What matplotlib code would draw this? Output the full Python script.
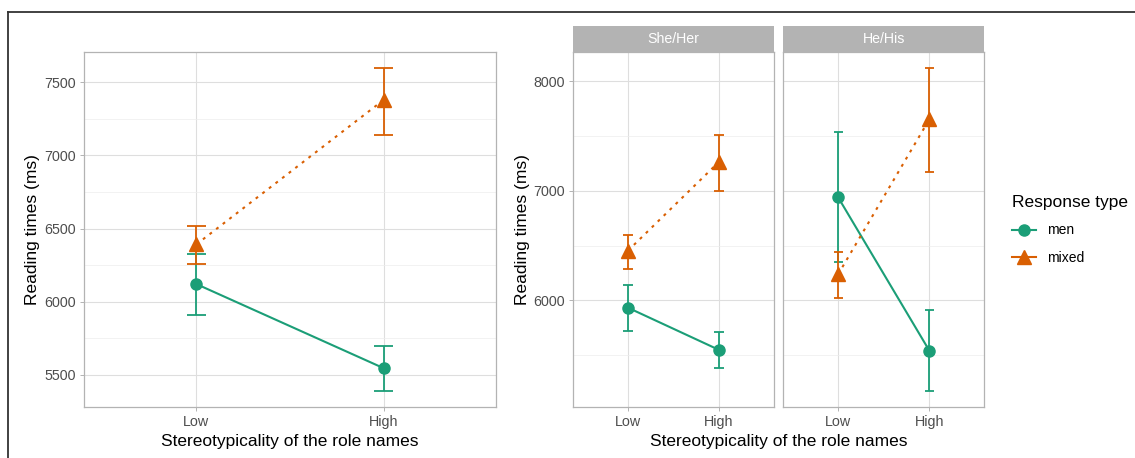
import numpy as np
import matplotlib
matplotlib.use("Agg")
import matplotlib.pyplot as plt
from matplotlib.lines import Line2D

plt.rcParams['font.family'] = ['Liberation Sans', 'DejaVu Sans']

levels = ['Low', 'High']

# left panel: all pronouns pooled
all_men = [6121, 5546]
all_men_lo = [5912, 5391]
all_men_hi = [6328, 5697]
all_mixed = [6392, 7380]
all_mixed_lo = [6260, 7143]
all_mixed_hi = [6515, 7597]

# right panels: split by pronoun
she_men = [5932, 5546]
she_men_lo = [5720, 5379]
she_men_hi = [6142, 5714]
she_mixed = [6453, 7266]
she_mixed_lo = [6289, 7002]
she_mixed_hi = [6599, 7507]

he_men = [6941, 5537]
he_men_lo = [6347, 5169]
he_men_hi = [7537, 5909]
he_mixed = [6237, 7656]
he_mixed_lo = [6024, 7172]
he_mixed_hi = [6441, 8119]

colours = {'men': '#1B9E77', 'mixed': '#D95F02'}
markers = {'men': ('o', 8), 'mixed': ('^', 9.5)}
styles = {'men': '-', 'mixed': (0, (1.4, 2.6))}

W, H = 1135, 458
fig = plt.figure(figsize=(W / 100, H / 100), dpi=100)


def px_axes(x0, y0, x1, y1):
    return fig.add_axes([x0 / W, 1 - y1 / H, (x1 - x0) / W, (y1 - y0) / H])


def draw(ax, series):
    x = np.arange(len(levels))
    for name, mean, lo, hi in series:
        c = colours[name]
        ax.plot(x, mean, color=c, lw=1.5, ls=styles[name], dash_capstyle='butt', zorder=3)
        ax.vlines(x, lo, hi, color=c, lw=1.3, zorder=3)
        ax.hlines(lo, x - 0.05, x + 0.05, color=c, lw=1.3, zorder=3)
        ax.hlines(hi, x - 0.05, x + 0.05, color=c, lw=1.3, zorder=3)
        m, ms = markers[name]
        ax.plot(x, mean, ls='none', marker=m, ms=ms, color=c, zorder=4)
    ax.set_xlim(-0.6, 1.6)
    ax.set_xticks(x, levels)


def style(ax, lo, hi, major, minor, show_y=True):
    pad = 0.05 * (hi - lo)
    ax.set_ylim(lo - pad, hi + pad)
    ax.set_yticks(major)
    ax.set_yticks(minor, minor=True)
    ax.grid(True, which='major', color='#DEDEDE', lw=0.8, zorder=0)
    ax.grid(True, which='minor', axis='y', color='#EDEDED', lw=0.5, zorder=0)
    ax.set_axisbelow(True)
    for s in ax.spines.values():
        s.set_color('#B3B3B3')
        s.set_linewidth(0.9)
    ax.tick_params(which='major', length=2.75, width=0.7, color='#B3B3B3',
                   labelsize=10.3, labelcolor='#4D4D4D', pad=3)
    ax.tick_params(which='minor', length=0)
    if not show_y:
        ax.tick_params(axis='y', which='both', left=False, labelleft=False)


# left panel
ax1 = px_axes(84, 52, 496, 407)
draw(ax1, [('men', all_men, all_men_lo, all_men_hi),
           ('mixed', all_mixed, all_mixed_lo, all_mixed_hi)])
lo1 = min(all_men_lo + all_mixed_lo)
hi1 = max(all_men_hi + all_mixed_hi)
style(ax1, lo1, hi1, [5500, 6000, 6500, 7000, 7500], [5750, 6250, 6750, 7250])

# faceted panels
ax2 = px_axes(573.3, 52.3, 773.7, 407.3)
ax3 = px_axes(783.3, 52.3, 984.3, 407.3)
draw(ax2, [('men', she_men, she_men_lo, she_men_hi),
           ('mixed', she_mixed, she_mixed_lo, she_mixed_hi)])
draw(ax3, [('men', he_men, he_men_lo, he_men_hi),
           ('mixed', he_mixed, he_mixed_lo, he_mixed_hi)])
lo2 = min(she_men_lo + she_mixed_lo + he_men_lo + he_mixed_lo)
hi2 = max(she_men_hi + she_mixed_hi + he_men_hi + he_mixed_hi)
style(ax2, lo2, hi2, [6000, 7000, 8000], [5500, 6500, 7500])
style(ax3, lo2, hi2, [6000, 7000, 8000], [5500, 6500, 7500], show_y=False)

# facet strips
for (x0, x1), label in zip([(573.3, 773.7), (783.3, 984.3)], ['She/Her', 'He/His']):
    st = px_axes(x0, 25.7, x1, 52.3)
    st.set_facecolor('#B3B3B3')
    st.set_xticks([])
    st.set_yticks([])
    for s in st.spines.values():
        s.set_visible(False)
    st.text(0.5, 0.5, label, color='white', fontsize=10.2, ha='center', va='center',
            transform=st.transAxes)

# axis titles
fig.text(290 / W, 1 - 446 / H, 'Stereotypicality of the role names', fontsize=12.5,
         ha='center', va='baseline')
fig.text(778.8 / W, 1 - 446 / H, 'Stereotypicality of the role names', fontsize=12.5,
         ha='center', va='baseline')
fig.text(33 / W, 1 - 229.5 / H, 'Reading times (ms)', fontsize=12.5, rotation=90,
         ha='center', va='center')
fig.text(522 / W, 1 - 229.5 / H, 'Reading times (ms)', fontsize=12.5, rotation=90,
         ha='center', va='center')

# legend
handles = [Line2D([], [], color=colours[k], lw=1.5, marker=markers[k][0],
                  ms=markers[k][1]) for k in ['men', 'mixed']]
fig.legend(handles, ['men', 'mixed'], title='Response type', loc='upper left',
           bbox_to_anchor=(1012 / W, 1 - 194.5 / H), frameon=False, fontsize=10,
           title_fontsize=12.5, alignment='left', handlelength=1.7,
           borderpad=0, borderaxespad=0, labelspacing=1.0, handletextpad=0.8)

# frame lines at the top and left of the image
fig.add_artist(Line2D([8.3 / W, 1], [1 - 11.7 / H, 1 - 11.7 / H],
                      transform=fig.transFigure, color='#333333', lw=1.3))
fig.add_artist(Line2D([8.3 / W, 8.3 / W], [0, 1 - 11.7 / H],
                      transform=fig.transFigure, color='#333333', lw=1.3))

fig.savefig('out.png', dpi=100, facecolor='white')
